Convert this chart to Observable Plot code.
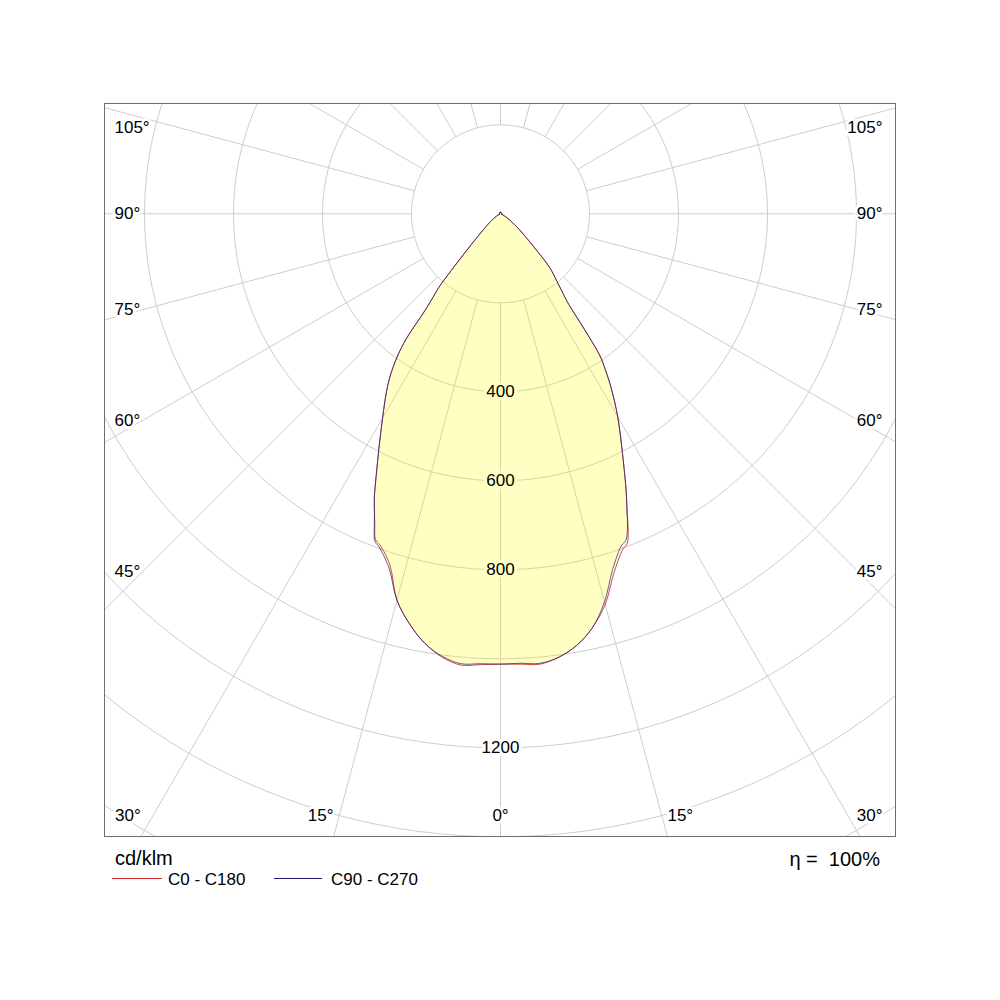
<!DOCTYPE html>
<html>
<head>
<meta charset="utf-8">
<script src="https://cdn.jsdelivr.net/npm/d3@7"></script>
<script src="https://cdn.jsdelivr.net/npm/@observablehq/plot@0.6"></script>
<style>
  body { margin: 0; background: #ffffff; font-family: "Liberation Sans", Arial, sans-serif; }
  #wrap { position: relative; width: 1000px; height: 1000px; }
  #chart svg { display: block; }
  .unit { position: absolute; left: 115px; top: 848px; font-size: 20px; line-height: 20px; color: #000; }
  .eta { position: absolute; right: 120px; top: 849px; font-size: 20px; line-height: 20px; color: #000; white-space: pre; }
  .leg { position: absolute; top: 871px; font-size: 17px; line-height: 17px; color: #000; white-space: pre; }
  .sw { position: absolute; top: 878px; height: 0; border-top: 1px solid; }
</style>
</head>
<body>
<div id="wrap">
  <div id="chart"></div>
  <div class="unit">cd/klm</div>
  <div class="eta">η =  100%</div>
  <div class="sw" style="left:112px;width:50px;border-color:#cc2a2a"></div>
  <div class="leg" style="left:168px">C0 - C180</div>
  <div class="sw" style="left:274px;width:48px;border-color:#1c1c78"></div>
  <div class="leg" style="left:331px">C90 - C270</div>
</div>
<script>
// ---- data (cd/klm) ----
const gamma = [0, 2.5, 5, 7.5, 10, 12.5, 15, 17.5, 20, 21, 22, 23, 24, 25, 27.5, 30, 32.5, 34, 35, 36, 37, 38, 39, 40, 41, 42.5, 45, 47.5, 50, 52.5, 55, 60, 65, 70, 80, 90, 105, 120, 135, 150, 165, 180];
const C0   = [1012, 1013, 1016, 1005, 985, 953, 909, 847, 803, 794, 766, 728, 696, 664, 590, 527, 462, 420, 390, 320, 255, 230, 212, 196, 183, 163, 110, 76, 56, 40, 28, 14, 6, 2, 1, 2, 3.5, 3.5, 3.5, 3.5, 3.5, 3.5];
const C180 = [1012, 1014, 1018, 1005, 980, 944, 899, 827, 792, 784, 754, 725, 697, 664, 591, 530, 478, 446, 421, 392, 353, 275, 240, 215, 168, 118, 72, 50, 37, 28, 20, 10, 4, 1.5, 1, 2, 3.5, 3.5, 3.5, 3.5, 3.5, 3.5];
const C90  = [1012, 1011, 1014, 1005, 985, 953, 903, 838, 794, 786, 762, 728, 696, 664, 590, 527, 462, 420, 390, 320, 255, 230, 212, 196, 183, 163, 110, 76, 56, 40, 28, 14, 6, 2, 1, 2, 3.5, 3.5, 3.5, 3.5, 3.5, 3.5];
const C270 = [1012, 1012, 1015, 1003, 980, 944, 899, 834, 797, 788, 757, 725, 697, 664, 591, 530, 478, 446, 421, 392, 353, 275, 240, 215, 168, 118, 72, 50, 37, 28, 20, 10, 4, 1.5, 1, 2, 3.5, 3.5, 3.5, 3.5, 3.5, 3.5];
const ringValues = [200, 400, 600, 800, 1000, 1200, 1400, 1600, 1800];
const ringLabels = [400, 600, 800, 1200];
const spokeAngles = d3.range(0, 360, 15);
const sideLabelAngles = [45, 60, 75, 90, 105];
const bottomLabelAngles = [0, 15, 30];

// ---- layout ----
const W = 1000, H = 842, mL = 104, mR = 105, mT = 103, mB = 6;
const k = 0.445;            // px per cd/klm
const cxPx = 500, cyPx = 213.3;
const xDom = [(mL - cxPx) / k, (W - mR - cxPx) / k];
const yDom = [(mT - cyPx) / k, (H - mB - cyPx) / k];
const rad = d => d * Math.PI / 180;

// closed polygon: right half (gamma 180 -> 0), then left half (0 -> 180)
function polygon(right, left) {
  const pts = [];
  for (let i = gamma.length - 1; i >= 0; i--) pts.push({x: right[i] * Math.sin(rad(gamma[i])), y: right[i] * Math.cos(rad(gamma[i]))});
  for (let i = 1; i < gamma.length; i++) pts.push({x: -left[i] * Math.sin(rad(gamma[i])), y: left[i] * Math.cos(rad(gamma[i]))});
  return pts;
}
const polyA = polygon(C0, C180);
const polyB = polygon(C90, C270);

const ringPts = ringValues.flatMap(r => d3.range(0, 361, 2).map(a => ({ring: r, x: r * Math.sin(rad(a)), y: r * Math.cos(rad(a))})));

// angle labels
const angleLabels = [];
for (const a of sideLabelAngles) {
  let yPx = cyPx + 358 / Math.tan(rad(a));
  yPx = Math.max(127, Math.min(815, yPx));
  angleLabels.push({t: a + "°", x: (114 - cxPx) / k, y: (yPx - cyPx) / k, anchor: "start"});
  angleLabels.push({t: a + "°", x: (882 - cxPx) / k, y: (yPx - cyPx) / k, anchor: "end"});
}
for (const a of bottomLabelAngles) {
  const yv = (815 - cyPx) / k;
  const off = 623 * Math.tan(rad(a));
  if (a === 0) { angleLabels.push({t: "0°", x: 0, y: yv, anchor: "middle"}); continue; }
  angleLabels.push({t: a + "°", x: -off / k, y: yv, anchor: "end"});
  const xr = cxPx + off;
  if (xr + 27 > 882) angleLabels.push({t: a + "°", x: (882 - cxPx) / k, y: yv, anchor: "end"});
  else angleLabels.push({t: a + "°", x: off / k, y: yv, anchor: "start"});
}

const fillYellow = "#ffff00";
const haloInside = "rgb(255,255,197)";
const gridColor = "#cdcdcd";

const labelMarks = ["start", "middle", "end"].map(anchor =>
  Plot.text(angleLabels.filter(d => d.anchor === anchor), {
    x: "x", y: "y", text: "t", textAnchor: anchor,
    stroke: "#ffffff", strokeWidth: 6, paintOrder: "stroke", fill: "#000", fontSize: 17
  })
);

const chart = Plot.plot({
  width: W, height: H,
  marginLeft: mL, marginRight: mR, marginTop: mT, marginBottom: mB,
  x: {domain: xDom, axis: null},
  y: {domain: yDom, reverse: true, axis: null},
  style: {fontFamily: "'Liberation Sans', Arial, sans-serif", fontSize: "17px", background: "#ffffff", color: "#000"},
  marks: [
    Plot.line(ringPts, {x: "x", y: "y", z: "ring", stroke: gridColor, strokeWidth: 1, clip: "frame"}),
    Plot.link(spokeAngles, {
      x1: a => 200 * Math.sin(rad(a)), y1: a => 200 * Math.cos(rad(a)),
      x2: a => 2200 * Math.sin(rad(a)), y2: a => 2200 * Math.cos(rad(a)),
      stroke: gridColor, strokeWidth: 1, clip: "frame"
    }),
    Plot.line(polyA, {x: "x", y: "y", fill: fillYellow, fillOpacity: 0.12, stroke: "none", curve: "catmull-rom"}),
    Plot.line(polyB, {x: "x", y: "y", fill: fillYellow, fillOpacity: 0.12, stroke: "none", curve: "catmull-rom"}),
    Plot.line(polyA, {x: "x", y: "y", stroke: "#cc2a2a", strokeWidth: 1, strokeOpacity: 0.85, curve: "catmull-rom"}),
    Plot.line(polyB, {x: "x", y: "y", stroke: "#1c1c78", strokeWidth: 1, strokeOpacity: 0.7, curve: "catmull-rom"}),
    Plot.text(ringLabels, {
      x: () => 0, y: d => d, text: d => String(d),
      stroke: d => (d < C0[0] ? haloInside : "#ffffff"), strokeWidth: 6, paintOrder: "stroke",
      fill: "#000", fontSize: 17, textAnchor: "middle"
    }),
    ...labelMarks,
    Plot.frame({stroke: "#6e6e6e", strokeWidth: 1})
  ]
});
document.getElementById("chart").appendChild(chart);
</script>
</body>
</html>
